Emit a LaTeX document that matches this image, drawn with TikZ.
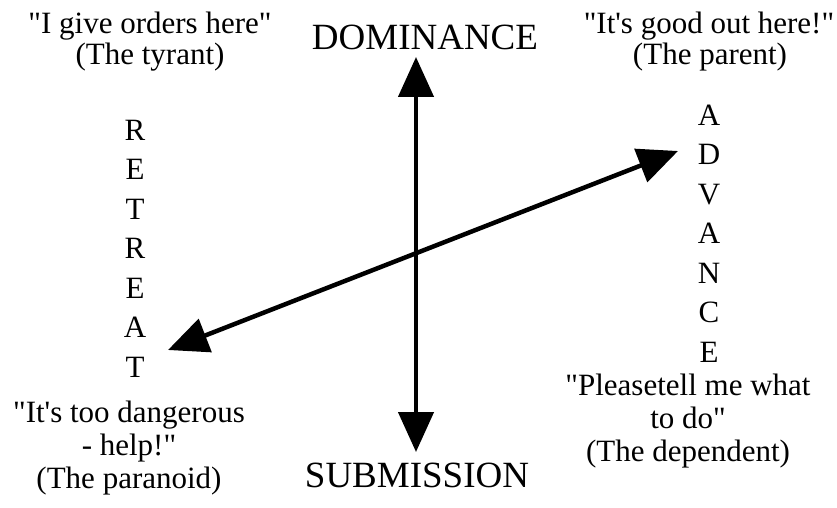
\documentclass[tikz,border=0pt]{standalone}
\usepackage{fontspec}
\newfontfamily\tnr{Liberation Serif}
\usetikzlibrary{arrows.meta}
\begin{document}
\begin{tikzpicture}[x=1pt,y=-1pt,
  quote/.style={font=\tnr\fontsize{31}{33}\selectfont, anchor=base, inner sep=0pt},
  axislabel/.style={font=\tnr\fontsize{37}{40}\selectfont, anchor=base, inner sep=0pt},
  letter/.style={font=\tnr\fontsize{31}{33}\selectfont, anchor=base, inner sep=0pt},
  axisline/.style={line width=4.5pt, {Triangle[length=40pt,width=35pt]}-{Triangle[length=40pt,width=35pt]}}]
\useasboundingbox (0,0) rectangle (837,508);

% axes
\coordinate (dom) at (416,57);
\coordinate (sub) at (416,452);
\coordinate (ret) at (168,350);
\coordinate (adv) at (678,151);
\draw[axisline] (sub) -- (dom);
\draw[axisline] (ret) -- (adv);

% axis labels
\node[axislabel] (dominance) at (425,50) {DOMINANCE};
\node[axislabel] (submission) at (417,487) {SUBMISSION};

\foreach \l [count=\i] in {R,E,T,R,E,A,T}
  \node[letter] (retreat\i) at (135,{140+39.5*(\i-1)}) {\l};
\foreach \l [count=\i] in {A,D,V,A,N,C,E}
  \node[letter] (advance\i) at (709,{125+39.5*(\i-1)}) {\l};

% quotes
\node[quote] (tl1) at (150,34) {"I give orders here"};
\node[quote] (tl2) at (150,65) {(The tyrant)};
\node[quote] (tr1) at (709,34) {"It's good out here!"};
\node[quote] (tr2) at (710,65) {(The parent)};
\node[quote] (bl1) at (129,422) {"It's too dangerous};
\node[quote] (bl2) at (129,455) {- help!"};
\node[quote] (bl3) at (129,488) {(The paranoid)};
\node[quote] (br1) at (688,395) {"Pleasetell me what};
\node[quote] (br2) at (688,428) {to do"};
\node[quote] (br3) at (688,461) {(The dependent)};
\end{tikzpicture}
\end{document}
